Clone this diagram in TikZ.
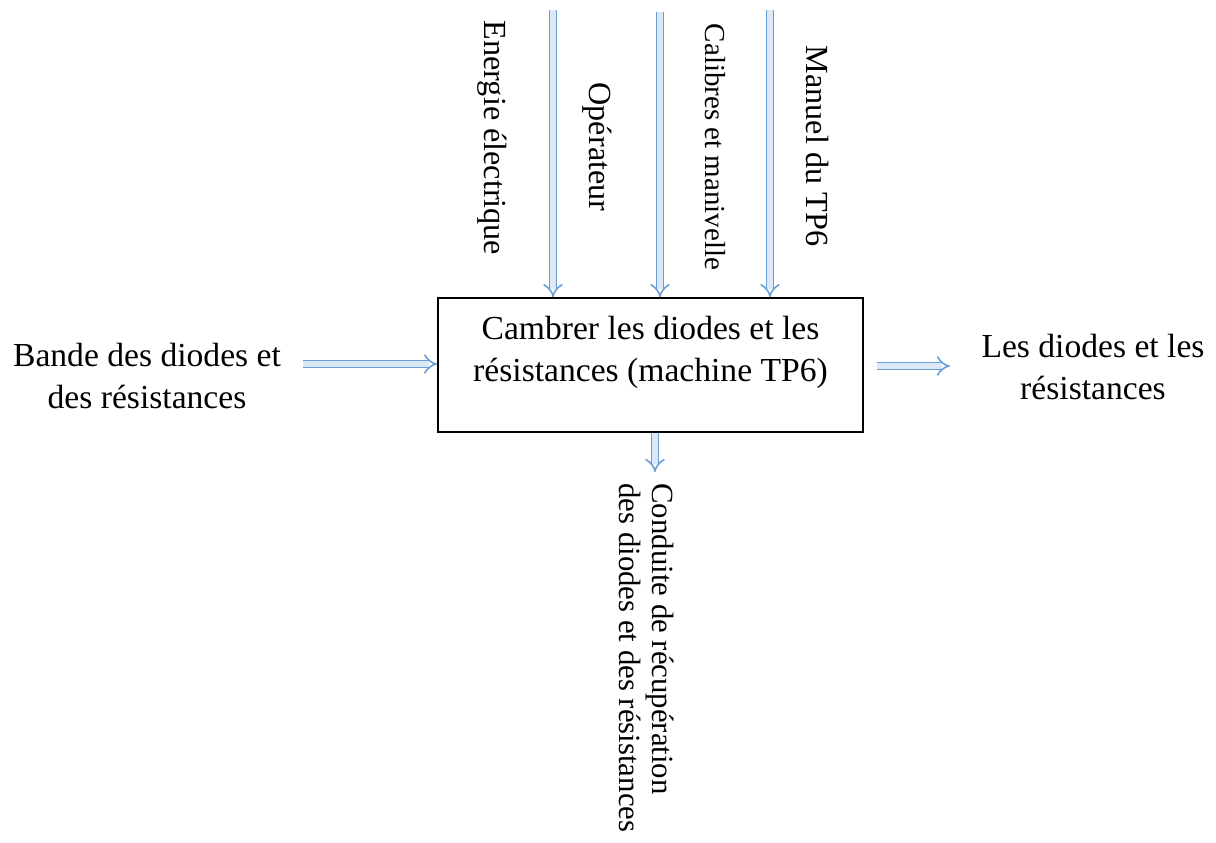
\documentclass[tikz,border=0pt]{standalone}
\usepackage{fontspec}
\setmainfont{Liberation Serif}
\usetikzlibrary{arrows.meta}
\definecolor{fluxbord}{RGB}{104,160,214}
\definecolor{fluxfond}{RGB}{218,232,247}
\tikzset{
  flux/.style={draw=fluxbord, line width=0.8pt, double=fluxfond,
    double distance=2.6pt, -{Implies[length=3.5pt, width=8.5pt]}},
  texte/.style={inner sep=0pt, align=center, font=\grand},
  vertical/.style={inner sep=0pt, rotate=-90}
}
\newcommand{\grand}{\fontsize{16.8}{21}\selectfont}
\newcommand{\moyen}{\fontsize{16.1}{19}\selectfont}
\begin{document}
\begin{tikzpicture}[x=0.5pt,y=-0.5pt]
  \useasboundingbox (0,0) rectangle (1216,842);
  \node [draw=black, line width=0.8pt, minimum width=212.5pt,
    minimum height=67pt, inner sep=0pt] (box) at (650.5,365) {};
  \node [texte] (boxtxt) at (650.5,352)
    {Cambrer les diodes et les\\ r\'esistances (machine TP6)};
  \node [texte] (bande) at (147,376)
    {Bande des diodes et\\ des r\'esistances};
  \node [texte] (sortie) at (1093,366.5)
    {Les diodes et les\\ r\'esistances};
  \node [vertical, font=\moyen] (energie) at (492,138)
    {Energie \'electrique};
  \node [vertical, font=\moyen] (operateur) at (597,147)
    {Op\'erateur};
  \node [vertical, font=\fontsize{14.5}{17}\selectfont] (calibres) at (715,147)
    {Calibres et manivelle};
  \node [vertical, font=\moyen] (manuel) at (818,146)
    {Manuel du TP6};
  \node [vertical, anchor=west, align=left,
    font=\fontsize{15.4}{16.5}\selectfont] (conduite) at (646.5,483)
    {Conduite de r\'ecup\'eration\\ des diodes et des r\'esistances};
  \coordinate (e1) at (553,10);
  \coordinate (e2) at (660,12);
  \coordinate (e3) at (770,10);
  \coordinate (e4) at (303,364);
  \coordinate (s1) at (950,366);
  \coordinate (s2) at (655,472);
  \draw [flux] (e1) to (e1 |- box.north);
  \draw [flux] (e2) to (e2 |- box.north);
  \draw [flux] (e3) to (e3 |- box.north);
  \draw [flux] (e4) to (e4 -| box.west);
  \draw [flux] ([xshift=6.5pt]box.east |- s1) to (s1);
  \draw [flux] (s2 |- box.south) to (s2);
\end{tikzpicture}
\end{document}
